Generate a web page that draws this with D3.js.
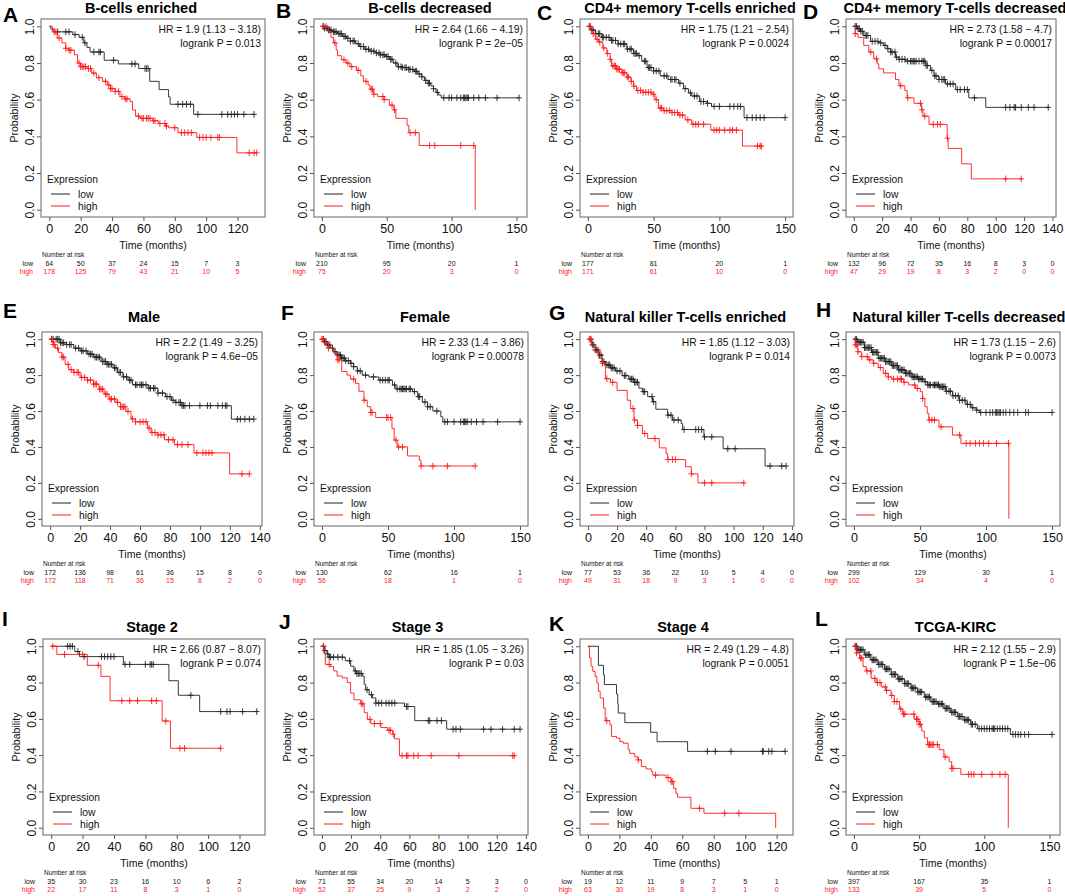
<!DOCTYPE html>
<html><head><meta charset="utf-8">
<script src="https://cdn.jsdelivr.net/npm/d3@7"></script>
<style>body{margin:0;background:#fff}</style>
</head><body><svg id="c" width="1065" height="896"></svg>
<script>
// ---------------- DATA ----------------
// steps: [time, survival after drop]; cens: censoring times
const A_lowSteps=[[1,0.985],[3,0.97],[15,0.955],[19,0.94],[22,0.91],[24,0.885],[26,0.86],[35,0.815],[44,0.795],[57,0.77],[64,0.70],[70,0.655],[76,0.615],[77,0.575],[92,0.52]];
const A_lowCens=[5.3,10.5,12.6,16.4,21,22.7,28.4,31.6,32.6,41,52.6,54.7,61,62,63,82,85,87.4,90,94.7,110,113.7,116,118,120,124,130.5];
const A_highSteps=[[2,0.97],[5,0.936],[8,0.91],[10.5,0.88],[12.6,0.87],[16,0.845],[18,0.80],[20,0.78],[24,0.77],[27,0.745],[30,0.72],[34,0.70],[37,0.68],[39,0.66],[42,0.645],[45,0.617],[48,0.604],[51.5,0.59],[53,0.544],[55,0.51],[58,0.498],[66,0.485],[69.5,0.47],[74,0.456],[76,0.447],[82,0.42],[94,0.394],[119.6,0.31]];
const A_highCens=[3.2,4.2,6.3,10.5,12.6,13.7,19,20,21,22,23,25,26.3,28.4,31.6,35.8,37.9,39,40,42,44.2,46.3,48.4,49.5,56.8,59,60,62,63,64.2,66.3,67.4,70.5,73.7,74.7,80,84.2,86.3,88.4,90.5,95.8,98,100,103,107.4,108.4,127.4,130.5,132.2];

const B_lowSteps=[[2,0.99],[5,0.98],[8,0.97],[12,0.96],[16,0.945],[19,0.935],[22,0.92],[26,0.905],[29,0.89],[33,0.875],[37,0.865],[41,0.855],[45,0.845],[49,0.835],[52,0.82],[55,0.80],[58,0.78],[62,0.775],[67,0.765],[71,0.755],[74,0.74],[77,0.725],[79,0.705],[82,0.69],[84,0.675],[86,0.66],[88,0.64],[90,0.625],[92,0.61]];
const B_lowCens=[1,2,4,5,6,7,9,10,11,13,14,15,17,18,20,22,24,25,28,30,32,34,36,38,40,42,44,45,47,48,50,51,53,54,57,59,61,62,64,65,67,68,70,72,73,75,77,80,82,83,86,89,94,98,100,104,107,109,110,111,112,113,117,121,126,135,152];
const B_highSteps=[[5,0.97],[7,0.94],[9,0.91],[11,0.872],[12,0.84],[15,0.818],[18.5,0.80],[21.6,0.78],[26.7,0.76],[30,0.73],[32,0.70],[35.6,0.68],[37,0.657],[40,0.63],[43,0.617],[48,0.60],[52,0.57],[55.4,0.544],[57,0.498],[65.6,0.46],[67,0.42],[75,0.35],[118.2,0]];
const B_highCens=[1,3,10,17,20,23,28,34,38,39,40,47,48,54,56,68,72,83,87,107,117];

const C_lowSteps=[[2,0.98],[5.6,0.96],[10.6,0.94],[17,0.923],[23,0.904],[29.6,0.876],[34.7,0.852],[38,0.84],[41,0.81],[45,0.775],[50,0.757],[55,0.73],[61,0.71],[69,0.69],[72.7,0.66],[76.5,0.637],[79,0.62],[85,0.59],[90.4,0.58],[94,0.563],[118.8,0.502]];
const C_lowCens=[1,3,4,6,8,9,11,12,14,16,18,19,21,23,25,27,28,30,32,33,35,36,37,39,43,44,46,47,48,50,52,54,58,60,63,64,66,67,70,74,78,81,83,86,88,91,96,100,108,111,114,116,121,125,128,131,134,150];
const C_highSteps=[[3,0.96],[5.6,0.93],[8,0.914],[11.4,0.882],[14.4,0.852],[17,0.82],[18,0.784],[22,0.766],[26,0.747],[29.6,0.723],[32.7,0.70],[34.7,0.674],[37,0.65],[42,0.64],[48.6,0.63],[51,0.60],[53.7,0.554],[57.5,0.54],[64,0.53],[69,0.516],[74,0.49],[79,0.466],[93.5,0.434],[117.6,0.347]];
const C_highCens=[2,4,7,9,12,15,17,19,20,21,22,23,24,26,27,28,30,31,33,35,38,40,42,44,46,48,50,52,55,56,58,60,62,64,66,68,70,72,76,80,82,84,88,96,98,100,104,108,110,113,129,131,132];

const D_lowSteps=[[2.4,0.987],[4.7,0.973],[7,0.95],[11.8,0.918],[17.6,0.91],[21,0.896],[23.5,0.878],[26,0.86],[29.4,0.832],[31.8,0.82],[36.5,0.81],[50.6,0.786],[54,0.76],[56.5,0.73],[60,0.71],[64.7,0.686],[71.8,0.655],[81,0.61],[93,0.558]];
const D_lowCens=[1,2,3,4,5,6,8,9,10,13,15,17,19,22,24,26,27,29,30,32,34,36,38,40,41,42,43,44,46,48,49,50,51,52,55,57,58,60,62,63,64,66,68,70,73,75,78,80,85,107,110,113,114,118,123,127,137];
const D_highSteps=[[1,0.96],[3,0.94],[7,0.896],[10.6,0.86],[14,0.823],[16.5,0.795],[17.6,0.768],[21,0.746],[29.4,0.71],[31.8,0.676],[36,0.65],[37.6,0.61],[42.4,0.58],[47.8,0.545],[48.7,0.51],[53,0.465],[65.8,0.39],[66.5,0.334],[76,0.25],[82.8,0.168]];
const D_highCens=[1,12,16,33,38,47,48,50,56,59,61,66,107,118];

const E_lowSteps=[[6.8,0.98],[11,0.97],[15.8,0.95],[20,0.935],[25,0.917],[29,0.90],[34,0.876],[38,0.86],[42,0.84],[45,0.815],[48.5,0.79],[52,0.772],[55,0.746],[65.5,0.727],[72,0.70],[77,0.68],[81,0.66],[83.5,0.648],[88,0.63],[121,0.555]];
const E_lowCens=[1,2,4,5,6,7,8,9,11,13,14,17,19,21,22,24,26,27,28,30,31,32,33,35,36,37,38,39,40,41,43,44,46,47,49,51,53,54,57,58,60,61,62,64,66,67,69,70,72,75,78,80,82,84,86,87,88,89,90,93,100,105,107,112,115,117,118,125,127,130,133,136];
const E_highSteps=[[2,0.97],[3.4,0.95],[5.6,0.925],[7.9,0.90],[10,0.86],[12.4,0.83],[15.7,0.815],[20,0.787],[24.7,0.772],[29,0.75],[32.6,0.722],[36,0.694],[39.3,0.667],[44,0.648],[47,0.624],[50.6,0.598],[54,0.556],[57,0.54],[65,0.505],[67.4,0.48],[72,0.467],[76.4,0.44],[83,0.413],[96,0.367],[119.8,0.25]];
const E_highCens=[1,2,3,5,8,9,12,14,16,18,19,21,23,25,27,29,30,31,33,34,35,37,38,40,41,43,45,47,48,49,50,52,55,57,60,62,64,66,68,70,72,74,76,79,82,85,88,92,98,102,104,106,108,128,133];

const F_lowSteps=[[2,0.987],[3.8,0.968],[6.4,0.95],[9,0.93],[11.4,0.912],[15,0.894],[17.8,0.88],[21.6,0.866],[24,0.847],[26.7,0.823],[30.5,0.80],[35.6,0.79],[43,0.772],[53.4,0.745],[56,0.723],[68.6,0.708],[72.5,0.68],[76,0.65],[80,0.624],[84,0.60],[90,0.568],[91.5,0.54]];
const F_lowCens=[1,2,3,4,6,8,10,12,13,14,15,16,17,18,20,22,24,27,29,33,39,44,46,48,50,51,55,57,59,60,61,62,63,64,66,67,70,73,74,78,80,82,87,93,95,100,105,107,108,109,110,113,117,122,133,150];
const F_highSteps=[[1.3,0.98],[5,0.95],[9,0.922],[11.4,0.885],[15,0.82],[19,0.80],[21.6,0.778],[25.4,0.754],[28,0.71],[31.8,0.66],[34.3,0.624],[37,0.592],[40.7,0.564],[53,0.503],[54.7,0.438],[57,0.40],[64.8,0.35],[73.7,0.326],[75,0.294]];
const F_highCens=[0,1,3,5,12,13,24,32,37,38,49,50,52,56,58,61,75,84,95,116];

const G_lowSteps=[[2.8,0.968],[5,0.94],[7.4,0.912],[9.7,0.875],[12,0.857],[15.5,0.84],[19,0.823],[23.5,0.797],[28,0.778],[31.6,0.76],[35,0.727],[37.4,0.708],[41,0.68],[44.3,0.652],[46.6,0.61],[54.7,0.577],[58,0.55],[64,0.53],[65,0.497],[79.6,0.456],[92.8,0.39],[121.6,0.294]];
const G_lowCens=[2,3,4,5,6,7,8,9,10,11,13,14,15,16,17,18,20,22,25,26,29,30,31,32,33,34,38,39,44,45,55,57,59,62,66,74,76,78,80,85,96,101,125,133,136];
const G_highSteps=[[2.3,0.968],[5,0.93],[7.4,0.894],[9.7,0.866],[12,0.78],[15.5,0.76],[20,0.715],[27,0.66],[29.3,0.614],[31.6,0.55],[34,0.52],[37.4,0.475],[41,0.447],[49,0.395],[53.6,0.363],[54.7,0.33],[67,0.29],[71,0.25],[75.5,0.20]];
const G_highCens=[1,2,7,10,13,17,31,32,34,39,46,55,58,60,71,80,85,107];

const H_lowSteps=[[3,0.983],[8,0.953],[13.3,0.927],[18.4,0.894],[23.5,0.875],[28.6,0.853],[33.7,0.829],[38.8,0.81],[44,0.79],[49,0.778],[53,0.763],[55.5,0.745],[64.4,0.735],[69.5,0.71],[74.6,0.685],[79.7,0.66],[84.8,0.637],[88.7,0.618],[92.5,0.605],[95,0.592]];
const H_lowCens=[1,2,3,4,5,6,7,8,9,10,11,12,13,14,15,16,17,18,19,20,21,22,23,24,25,26,27,28,29,30,31,32,33,34,35,36,37,38,39,40,41,42,43,44,45,46,47,48,49,50,51,52,54,56,57,58,60,61,62,63,64,65,66,67,68,69,70,72,73,75,77,79,80,82,84,86,88,90,93,96,100,103,105,107,108,109,110,111,113,115,118,121,124,130,132,150];
const H_highSteps=[[1,0.968],[3,0.93],[5.6,0.903],[10.7,0.885],[14.6,0.866],[18.4,0.842],[22.2,0.81],[26,0.79],[28.6,0.778],[37.6,0.76],[41.4,0.745],[46.5,0.726],[50.3,0.708],[52,0.67],[53.7,0.624],[55.5,0.587],[56.7,0.55],[64.4,0.512],[74.6,0.466],[81,0.42],[117.3,0]];
const H_highCens=[1,2,3,6,10,12,15,20,24,26,30,33,35,36,38,46,48,52,57,59,61,66,80,85,88,92,95,98,102,108,117];

const I_lowSteps=[[15,0.971],[18,0.943],[46,0.90],[75,0.81],[81,0.73],[94.6,0.64]];
const I_lowCens=[10.5,12,13.5,17,21,32,34,36,38,40,47,50,60,63,64,65,89,108,112,114,122,131];
const I_highSteps=[[3.6,0.955],[23,0.895],[31.7,0.834],[37.5,0.70],[70.7,0.588],[76,0.438]];
const I_highCens=[1,8.5,20,30,45,50,55,64,67,73,82,85,108];

const J_lowSteps=[[2,0.976],[3.5,0.957],[5,0.94],[16,0.92],[19.7,0.89],[22,0.864],[23.6,0.85],[27.8,0.836],[29,0.79],[30,0.76],[32.4,0.733],[34.7,0.715],[37,0.687],[56.7,0.668],[63.7,0.59],[85.6,0.543]];
const J_lowCens=[1,2,4,5,6,8,11,14,19,23,24,25,26,27,31,34,37,39,41,44,46,48,50,58,59,73,74,79,82,90,92,95,111,116,124,132,136];
const J_highSteps=[[1.2,0.963],[2.3,0.90],[5.8,0.888],[8,0.864],[10.4,0.836],[13.9,0.826],[17.4,0.80],[19.7,0.742],[22,0.705],[26.6,0.683],[29,0.634],[31.2,0.597],[33.6,0.574],[40.5,0.552],[45,0.537],[48.6,0.515],[49.8,0.49],[53.2,0.397]];
const J_highCens=[1,5,27,28,33,36,40,46,47,49,55,58,59,63,66,75,94,131,132];

const K_lowSteps=[[6.7,0.895],[9.9,0.842],[10.5,0.789],[18.2,0.737],[19,0.684],[19.3,0.632],[23.5,0.579],[39.9,0.526],[44,0.474],[63.4,0.421]];
const K_lowCens=[76,81,91,111,111.5,115,117,125.4];
const K_highSteps=[[1,0.936],[2,0.89],[3.1,0.862],[4.6,0.834],[5.7,0.798],[6.7,0.752],[7.8,0.715],[9.9,0.66],[11,0.59],[14,0.567],[15,0.503],[18.2,0.494],[20.3,0.475],[22.4,0.466],[25.6,0.43],[26.6,0.41],[29.8,0.39],[31.9,0.374],[34,0.337],[37,0.324],[40.3,0.31],[41.3,0.29],[49.7,0.276],[52.9,0.254],[54.5,0.217],[56,0.19],[57,0.168],[65.5,0.107],[73.8,0.08],[119.4,0]];
const K_highCens=[12,32,43,51,53,54,71,87,96];

const L_lowSteps=[[3,0.981],[8,0.953],[13,0.925],[18.3,0.90],[23.4,0.875],[28.5,0.845],[33.6,0.82],[38.7,0.794],[43.8,0.77],[48.9,0.748],[54,0.72],[59,0.695],[64,0.682],[69,0.658],[74,0.636],[79.5,0.613],[84.5,0.594],[89.6,0.57],[94.7,0.546],[120,0.514]];
const L_lowCens=[1,2,3,4,5,6,7,9,10,11,12,14,15,16,17,19,20,21,22,24,25,26,27,29,30,31,32,34,35,36,37,39,40,41,42,44,45,46,47,49,50,51,52,55,56,57,58,60,61,62,63,65,66,67,68,70,71,72,73,75,76,77,78,80,81,82,83,85,86,87,88,90,91,93,96,98,100,102,104,106,107,108,110,112,114,116,118,122,124,126,128,131,134,152];
const L_highSteps=[[1.8,0.963],[4.3,0.935],[7,0.888],[9.4,0.864],[13.2,0.823],[17,0.80],[21,0.776],[24.7,0.757],[28.5,0.729],[31,0.695],[35,0.654],[37.4,0.626],[46.3,0.598],[50,0.57],[52,0.533],[54,0.495],[56.5,0.458],[65.4,0.43],[69,0.39],[73,0.364],[75,0.327],[82,0.294],[118.4,0]];
const L_highCens=[1,2,5,6,10,13,16,18,20,24,25,29,31,33,36,38,39,46,48,49,50,51,57,58,59,60,61,64,70,75,76,88,90,92,98,106,112,116];

// numbers at risk (low / high) at each x tick
const riskLow=[[64,50,37,24,15,7,3],[210,95,20,1],[177,81,20,1],[132,96,72,35,16,8,3,0],[172,136,98,61,36,15,8,0],[130,62,16,1],[77,53,36,22,10,5,4,0],[299,129,30,1],[35,30,23,16,10,6,2],[71,55,34,20,14,5,3,0],[19,12,11,9,7,5,1],[397,167,35,1]];
const riskHigh=[[178,125,79,43,21,10,5],[75,20,3,0],[171,61,10,0],[47,29,19,8,3,2,0,0],[172,118,71,36,15,8,2,0],[56,18,1,0],[49,31,18,9,3,1,0,0],[102,34,4,0],[22,17,11,8,3,1,0],[52,37,25,9,3,2,2,0],[63,30,19,8,3,1,0],[133,39,5,0]];

const letters=["A","B","C","D","E","F","G","H","I","J","K","L"];
const titles=["B-cells enriched","B-cells decreased","CD4+ memory T-cells enriched","CD4+ memory T-cells decreased","Male","Female","Natural killer T-cells enriched","Natural killer T-cells decreased","Stage 2","Stage 3","Stage 4","TCGA-KIRC"];
const hrLabels=["HR = 1.9 (1.13 − 3.18)","HR = 2.64 (1.66 − 4.19)","HR = 1.75 (1.21 − 2.54)","HR = 2.73 (1.58 − 4.7)","HR = 2.2 (1.49 − 3.25)","HR = 2.33 (1.4 − 3.86)","HR = 1.85 (1.12 − 3.03)","HR = 1.73 (1.15 − 2.6)","HR = 2.66 (0.87 − 8.07)","HR = 1.85 (1.05 − 3.26)","HR = 2.49 (1.29 − 4.8)","HR = 2.12 (1.55 − 2.9)"];
const pLabels=["logrank P = 0.013","logrank P = 2e−05","logrank P = 0.0024","logrank P = 0.00017","logrank P = 4.6e−05","logrank P = 0.00078","logrank P = 0.014","logrank P = 0.0073","logrank P = 0.074","logrank P = 0.03","logrank P = 0.0051","logrank P = 1.5e−06"];
const xTickStep=[20,50,50,20,20,50,20,50,20,20,20,50];
const yTickValues=[0,0.2,0.4,0.6,0.8,1.0];
const groupNames=["low","high"];

const lowSteps=[A_lowSteps,B_lowSteps,C_lowSteps,D_lowSteps,E_lowSteps,F_lowSteps,G_lowSteps,H_lowSteps,I_lowSteps,J_lowSteps,K_lowSteps,L_lowSteps];
const lowCens=[A_lowCens,B_lowCens,C_lowCens,D_lowCens,E_lowCens,F_lowCens,G_lowCens,H_lowCens,I_lowCens,J_lowCens,K_lowCens,L_lowCens];
const highSteps=[A_highSteps,B_highSteps,C_highSteps,D_highSteps,E_highSteps,F_highSteps,G_highSteps,H_highSteps,I_highSteps,J_highSteps,K_highSteps,L_highSteps];
const highCens=[A_highCens,B_highCens,C_highCens,D_highCens,E_highCens,F_highCens,G_highCens,H_highCens,I_highCens,J_highCens,K_highCens,L_highCens];

// ---------------- LAYOUT ----------------
const boxLeft=[41,314,580,846,42,314,580,846,43,314,580,846];
const boxRight=[265,527,793,1056,262,528,794,1060,265,528,793,1060];
const rowTop=[19,332,639], rowBottom=[217,526,835];
const titleX=[141,430,690,955,144,425,685.5,959,152,417.5,683,955.5];
const titleY=[12.5,322,632];
const letterX=[3,276,537,803,3,281,549,816,2,279,549,815];
const letterY=[22,18,20,19,318,320,320,317,626,629,631,626];
const FONT='"Liberation Sans", Arial, Helvetica, sans-serif';
const colLow="#222", colHigh="#ff1a1a";

const svg=d3.select("#c");

function survAt(steps,t){let s=1;for(const [ts,v] of steps){if(ts<=t)s=v;else break;}return s;}
function endTime(steps,cens){return Math.max(steps.length?steps[steps.length-1][0]:0, cens.length?d3.max(cens):0);}

for(let i=0;i<12;i++){
  const row=Math.floor(i/4);
  const L=boxLeft[i],R=boxRight[i],T=rowTop[row],B=rowBottom[row];
  const curves=[{steps:lowSteps[i],cens:lowCens[i],col:colLow},{steps:highSteps[i],cens:highCens[i],col:colHigh}];
  const M=d3.max(curves,c=>endTime(c.steps,c.cens));
  const x=d3.scaleLinear().domain([-0.04*M,1.04*M]).range([L,R]);
  const y=d3.scaleLinear().domain([-0.04,1.04]).range([B,T]);
  const ticks=d3.range(0,x.domain()[1],xTickStep[i]);
  const g=svg.append("g").attr("font-family",FONT);

  // letter & title
  g.append("text").attr("x",letterX[i]).attr("y",letterY[i]).attr("font-size",21).attr("font-weight","bold").attr("fill","#000").text(letters[i]);
  g.append("text").attr("x",titleX[i]).attr("y",titleY[row]).attr("text-anchor","middle").attr("font-size",14.5).attr("font-weight","bold").attr("fill","#000").text(titles[i]);

  // axes
  const gx=g.append("g").attr("transform",`translate(0,${B})`)
    .call(d3.axisBottom(x).tickValues(ticks).tickSize(4).tickPadding(3).tickFormat(d3.format("d")));
  gx.attr("font-family",FONT).attr("font-size",12.5);
  gx.select(".domain").remove();
  gx.selectAll("line").attr("stroke","#555");
  gx.selectAll("text").attr("fill","#111");

  const gy=g.append("g").attr("transform",`translate(${L},0)`)
    .call(d3.axisLeft(y).tickValues(yTickValues).tickSize(4).tickFormat(d3.format(".1f")));
  gy.attr("font-family",FONT).attr("font-size",12);
  gy.select(".domain").remove();
  gy.selectAll("line").attr("stroke","#555");
  gy.selectAll("text").attr("x",0).attr("dy",null).attr("y",-7).attr("transform","rotate(-90)").attr("text-anchor","middle").attr("fill","#111");

  // box
  g.append("rect").attr("x",L).attr("y",T).attr("width",R-L).attr("height",B-T).attr("fill","none").attr("stroke","#666").attr("stroke-width",1);

  // axis titles
  g.append("text").attr("transform",`translate(${L-23},${(T+B)/2}) rotate(-90)`).attr("text-anchor","middle").attr("font-size",10.5).attr("fill","#111").text("Probability");
  g.append("text").attr("x",(L+R)/2).attr("y",B+32).attr("text-anchor","middle").attr("font-size",10.5).attr("fill","#111").text("Time (months)");

  // curves
  curves.forEach(c=>{
    const end=endTime(c.steps,c.cens);
    let d=`M${x(0)},${y(1)}`;
    c.steps.forEach(([t,s])=>{d+=`H${x(t)}V${y(s)}`;});
    d+=`H${x(end)}`;
    g.append("path").attr("d",d).attr("fill","none").attr("stroke",c.col).attr("stroke-width",0.9);
    let cd="";
    c.cens.forEach(t=>{const cx=x(t),cy=y(survAt(c.steps,t));cd+=`M${cx},${cy-3.3}V${cy+3.3}M${cx-2.8},${cy}H${cx+2.8}`;});
    g.append("path").attr("d",cd).attr("fill","none").attr("stroke",c.col).attr("stroke-width",0.9);
  });

  // HR text
  g.append("text").attr("x",R-4).attr("y",T+14).attr("text-anchor","end").attr("font-size",10.3).attr("fill","#111").text(hrLabels[i]);
  g.append("text").attr("x",R-4).attr("y",T+28).attr("text-anchor","end").attr("font-size",10.3).attr("fill","#111").text(pLabels[i]);

  // legend
  g.append("text").attr("x",L+6).attr("y",B-34.5).attr("font-size",10.3).attr("fill","#111").text("Expression");
  [colLow,colHigh].forEach((col,k)=>{
    const ly=B-23+k*12;
    g.append("line").attr("x1",L+10).attr("x2",L+29).attr("y1",ly).attr("y2",ly).attr("stroke",col).attr("stroke-width",1);
    g.append("text").attr("x",L+37).attr("y",ly+3.6).attr("font-size",10.3).attr("fill","#111").text(groupNames[k]);
  });

  // number at risk
  g.append("text").attr("x",L+1).attr("y",B+40).attr("font-size",6.5).attr("fill","#111").text("Number at risk");
  [riskLow[i],riskHigh[i]].forEach((vals,k)=>{
    const ry=B+48.5+k*8.5; const col=k?colHigh:"#111";
    g.append("text").attr("x",L-8).attr("y",ry).attr("text-anchor","end").attr("font-size",7).attr("fill",col).text(groupNames[k]);
    g.selectAll(null).data(vals).enter().append("text").attr("x",(v,j)=>x(ticks[j])).attr("y",ry).attr("text-anchor","middle").attr("font-size",7).attr("fill",col).text(v=>v);
  });
}
</script></body></html>
